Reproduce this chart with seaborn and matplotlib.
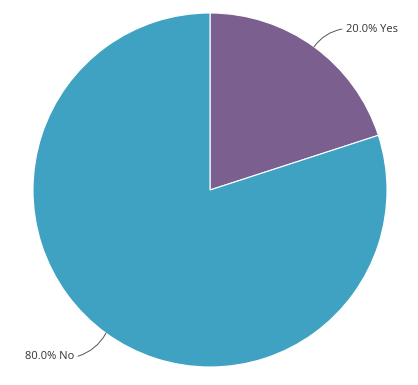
import matplotlib
matplotlib.use("Agg")
import matplotlib.pyplot as plt
import seaborn as sns
import numpy as np

categories = ["Yes", "No"]
values = [20.0, 80.0]
colors = ["#7b5f8e", "#40a2c2"]

sns.set_theme(style="white")
plt.rcParams['font.family'] = ['Open Sans', 'DejaVu Sans']

fig = plt.figure(figsize=(4.18, 3.85), dpi=100)
W, H = 418, 385
cx, cy, r = 210, 190, 177
ax = fig.add_axes([(cx - r) / W, (H - cy - r) / H, 2 * r / W, 2 * r / H])
wedges, _ = ax.pie(values, colors=colors, startangle=90, counterclock=False,
                   wedgeprops=dict(edgecolor="white", linewidth=0.8))
ax.set_xlim(-1, 1)
ax.set_ylim(-1, 1)
ax.set_aspect("equal")
ax.axis("off")

total = sum(values)
for w, cat, v in zip(wedges, categories, values):
    ang = np.deg2rad((w.theta1 + w.theta2) / 2)
    x, y = np.cos(ang), np.sin(ang)
    side = 1 if x >= 0 else -1
    tx = x + side * 0.12
    ty = y + (0.10 if y > 0 else -0.13)
    ax.annotate(f"{v / total * 100:.1f}% {cat}", xy=(x, y), xytext=(tx + side * 0.06, ty),
                ha="left" if side > 0 else "right", va="center", fontsize=8, color="#333333",
                arrowprops=dict(arrowstyle="-", color="#555555", lw=0.7,
                                shrinkA=0, shrinkB=0,
                                connectionstyle=f"arc3,rad={0.2 * side * np.sign(y)}",
                                relpos=(-0.08, 0.5) if side > 0 else (1.08, 0.5)),
                annotation_clip=False)

fig.savefig("out.png", dpi=100, facecolor="white")
